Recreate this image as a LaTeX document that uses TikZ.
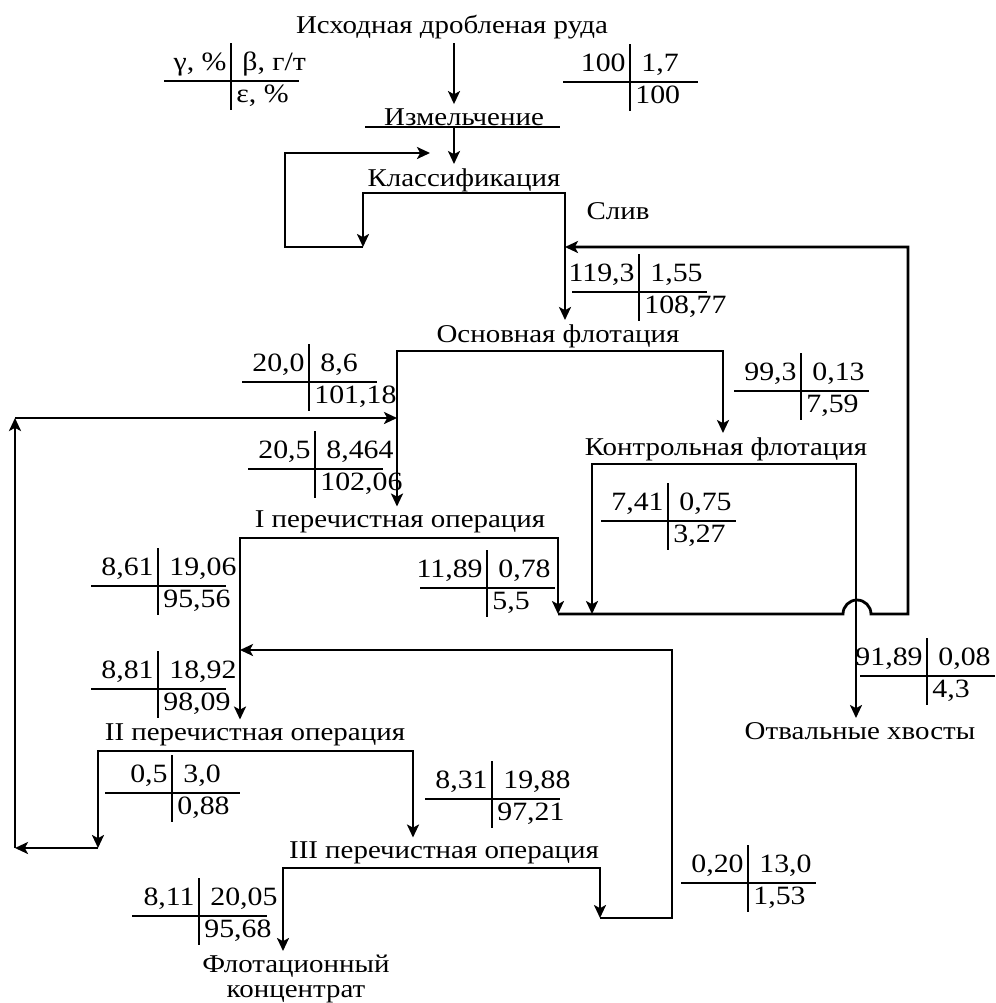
\documentclass[tikz,border=0pt]{standalone}
\usepackage{fontspec}
\setmainfont[FakeStretch=1.13]{Liberation Serif}
\usetikzlibrary{arrows.meta}

\tikzset{
  bar/.style={line width=1.4pt},
  flow/.style={bar, -{Stealth[length=6.5pt,width=6pt,inset=1.6pt]}},
  flowtwo/.style={bar, {Stealth[length=6.5pt,width=6pt,inset=1.6pt]}-{Stealth[length=6.5pt,width=6pt,inset=1.6pt]}},
  op/.style={inner sep=2pt, font=\fontsize{12.8}{12.3}\selectfont},
  num/.style={inner sep=0pt, font=\fontsize{13.2}{15}\selectfont}
}

% balance cross: name, x, y, yield, grade, recovery
\newcommand{\massbal}[6]{%
  \coordinate (#1) at (#2,#3);
  \draw[bar] ([xshift=-33.5pt]#1) -- ([xshift=34pt]#1);
  \draw[bar] ([yshift=19pt]#1) -- ([yshift=-14.5pt]#1);
  \node[num, anchor=base east] (#1-g) at ([xshift=-2pt,yshift=5.5pt]#1) {#4};
  \node[num, anchor=base west] (#1-b) at ([xshift=5.5pt,yshift=5.5pt]#1) {#5};
  \node[num, anchor=base west] (#1-e) at ([xshift=2.5pt,yshift=-10.5pt]#1) {#6};
}

\begin{document}
\begin{tikzpicture}[x=0.5pt,y=-0.5pt]
\fill[white] (0,0) rectangle (996,1003);
\useasboundingbox (0,0) rectangle (996,1003);

\node[op] (src) at (452,27) {Исходная дробленая руда};
\node[op] (grind) at (464,117) {Измельчение};
\node[op] (class) at (464,180) {Классификация};
\node[op] (sliv) at (618,211) {Слив};
\node[op] (rough) at (558,336) {Основная флотация};
\node[op] (scav) at (726,449) {Контрольная флотация};
\node[op] (cl1) at (400,522) {I перечистная операция};
\node[op] (cl2) at (255,735) {II перечистная операция};
\node[op] (cl3) at (444,853) {III перечистная операция};
\node[op] (tail) at (860,731) {Отвальные хвосты};
\node[op, align=center, anchor=north] (conc) at (296,951) {Флотационный\\концентрат};

\coordinate (axis) at (454,0);
\coordinate (grind-l) at (365,127);
\coordinate (grind-r) at (560,127);
\coordinate (class-l) at (363,193);
\coordinate (class-r) at (565,193);
\coordinate (sand) at (285,247);
\coordinate (ret) at (430,153);
\coordinate (rough-l) at (397,351);
\coordinate (rough-r) at (723,351);
\coordinate (scav-l) at (592,464);
\coordinate (scav-r) at (856,464);
\coordinate (mid) at (558,614);
\coordinate (hop) at (857,614);
\coordinate (recyc) at (908,247);
\coordinate (cl1-l) at (240,538);
\coordinate (cl1-r) at (558,538);
\coordinate (ret1) at (672,650);
\coordinate (cl2-l) at (98,751);
\coordinate (cl2-r) at (413,751);
\coordinate (lp-b) at (15,848);
\coordinate (lp-t) at (15,418);
\coordinate (cl3-l) at (283,868);
\coordinate (cl3-r) at (600,868);
\coordinate (loop3) at (672,918);

\draw[flow] (src.south -| axis) -- (grind.north -| axis);
\draw[bar] (grind-l) -- (grind-r);
\draw[flow] (grind-l -| axis) -- (class.north -| axis);
\draw[flowtwo] (class-l |- sand) -- (class-l) -- (class-r) -- (class-r |- rough.north);
\draw[flow] (class-l |- sand) -- (sand) -- (sand |- ret) -- (ret);

\draw[flowtwo] (rough-l |- cl1.north) -- (rough-l) -- (rough-r) -- (rough-r |- scav.north);
\draw[flowtwo] (scav-l |- mid) -- (scav-l) -- (scav-r) -- (scav-r |- tail.north);
\draw[flow] (mid) -- ([xshift=-7pt]hop) arc[start angle=180, end angle=360, radius=14]
  -- (recyc |- mid) -- (recyc) -- (class-r |- recyc);

\draw[flowtwo] (cl1-l |- cl2.north) -- (cl1-l) -- (cl1-r) -- (cl1-r |- mid);
\draw[flowtwo] (cl2-l |- lp-b) -- (cl2-l) -- (cl2-r) -- (cl2-r |- cl3.north);
\draw[flow] (cl2-l |- lp-b) -- (lp-b);
\draw[flow] (lp-b) -- (lp-t);
\draw[flow] (lp-t) -- (rough-l |- lp-t);

\draw[flowtwo] (cl3-l |- conc.north) -- (cl3-l) -- (cl3-r) -- (cl3-r |- loop3);
\draw[flow] (cl3-r |- loop3) -- (loop3) -- (ret1) -- (cl1-l |- ret1);

\massbal{b-key}{231}{81}{γ, \%}{β, г/т}{ε, \%}
\massbal{b-ore}{630}{82}{100}{1,7}{100}
\massbal{b-over}{639}{292}{119,3}{1,55}{108,77}
\massbal{b-rc}{309}{382}{20,0}{8,6}{101,18}
\massbal{b-c1f}{315}{469}{20,5}{8,464}{102,06}
\massbal{b-rt}{801}{391}{99,3}{0,13}{7,59}
\massbal{b-sc}{668}{521}{7,41}{0,75}{3,27}
\massbal{b-c1t}{487}{588}{11,89}{0,78}{5,5}
\massbal{b-c1c}{158}{586}{8,61}{19,06}{95,56}
\massbal{b-c2f}{158}{689}{8,81}{18,92}{98,09}
\massbal{b-c2t}{172}{793}{0,5\hspace{7pt}}{3,0}{0,88}
\massbal{b-c2c}{492}{799}{8,31}{19,88}{97,21}
\massbal{b-tail}{927}{676}{91,89}{0,08}{4,3}
\massbal{b-c3t}{748}{883}{0,20}{13,0}{1,53}
\massbal{b-conc}{199}{916}{8,11}{20,05}{95,68}
\end{tikzpicture}
\end{document}
